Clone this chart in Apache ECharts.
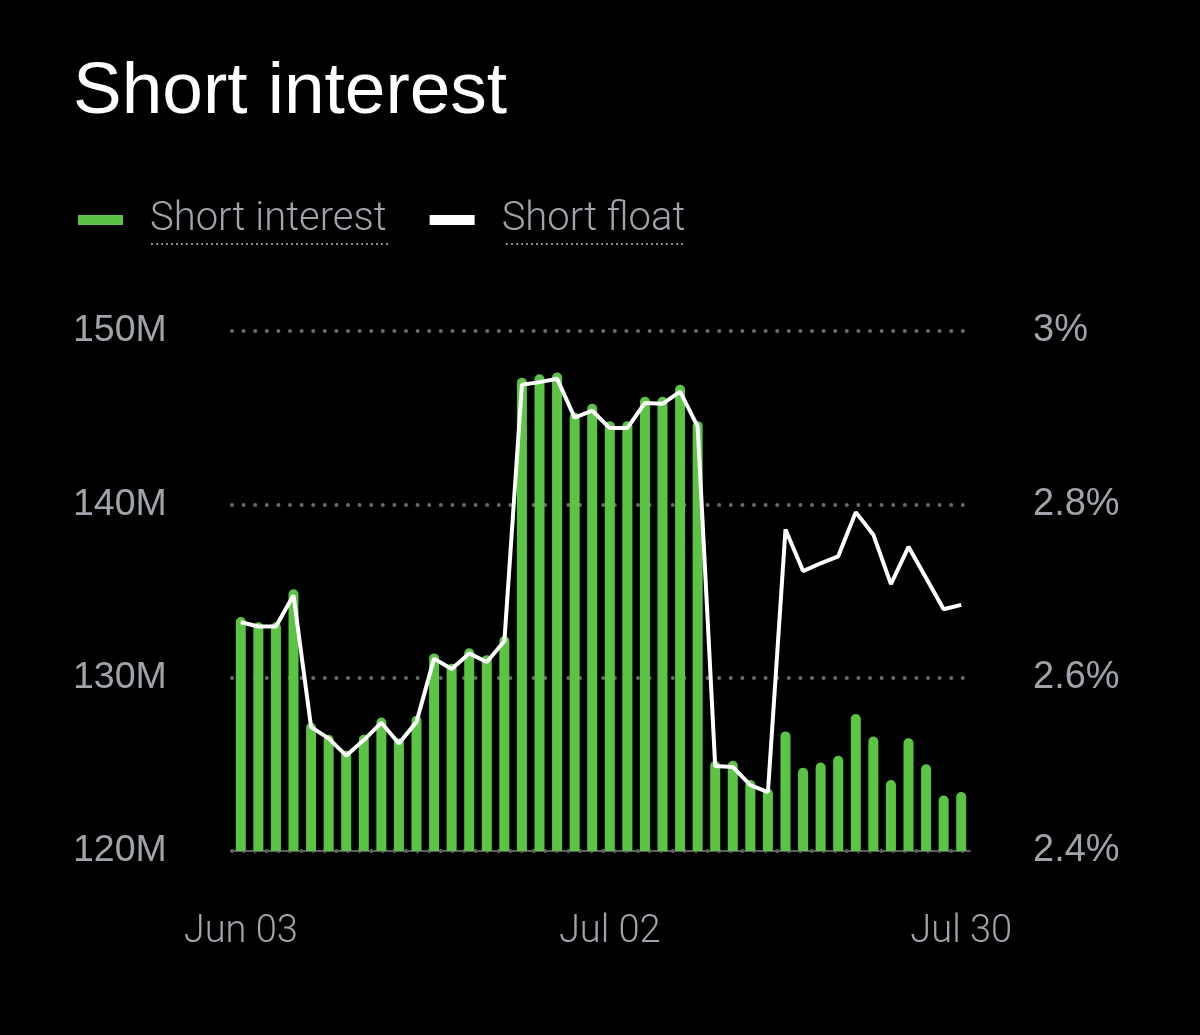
<!DOCTYPE html>
<html>
<head>
<meta charset="utf-8">
<script src="https://cdn.jsdelivr.net/npm/echarts@6/dist/echarts.min.js"></script>
<style>
html,body{margin:0;padding:0;background:#000;}
#chart{width:1200px;height:1035px;}
</style>
</head>
<body>
<div id="chart"></div>
<script>
const dates = ['Jun 03','Jun 04','Jun 05','Jun 06','Jun 07','Jun 10','Jun 11','Jun 12','Jun 13','Jun 14',
  'Jun 17','Jun 18','Jun 19','Jun 20','Jun 21','Jun 24','Jun 25','Jun 26','Jun 27','Jun 28',
  'Jul 01','Jul 02','Jul 03','Jul 04','Jul 05','Jul 08','Jul 09','Jul 10','Jul 11','Jul 12',
  'Jul 15','Jul 16','Jul 17','Jul 18','Jul 19','Jul 22','Jul 23','Jul 24','Jul 25','Jul 26',
  'Jul 29','Jul 30'];
const shortInterest = [133.5,133.2,133.2,135.1,127.4,126.7,125.8,126.7,127.7,126.5,
  127.8,131.4,130.8,131.7,131.3,132.4,147.3,147.5,147.6,145.3,
  145.8,144.8,144.8,146.2,146.2,146.9,144.8,125.2,125.2,124.1,
  123.6,126.9,124.8,125.1,125.5,127.9,126.6,124.1,126.5,125.0,
  123.2,123.4];
const shortFloat = [2.664,2.659,2.659,2.695,2.543,2.530,2.510,2.528,2.548,2.524,
  2.549,2.622,2.610,2.628,2.618,2.642,2.938,2.941,2.945,2.900,
  2.908,2.888,2.888,2.917,2.916,2.930,2.890,2.498,2.497,2.476,
  2.468,2.771,2.723,2.732,2.740,2.791,2.765,2.708,2.751,2.715,
  2.679,2.684];
const shownLabels = ['Jun 03','Jul 02','Jul 30'];
const leftTicks = {min:120, max:150, interval:10};
const rightTicks = {min:2.4, max:3.0, interval:0.2};

const GREEN = '#5cc444';
const GRAY = '#9fa3aa';

const chart = echarts.init(document.getElementById('chart'), null, {renderer:'canvas'});
chart.setOption({
  backgroundColor:'#000',
  animation:false,
  title:{
    text:'Short interest',
    left:68, top:51,
    textStyle:{color:'#fff', fontSize:73, fontWeight:'normal', fontFamily:'Liberation Sans'}
  },
  legend:{
    left:78, top:200, padding:0,
    itemWidth:45, itemHeight:10, itemGap:43,
    data:[{name:'Short interest', icon:'rect'},{name:'Short float', icon:'rect'}],
    textStyle:{color:GRAY, fontSize:40, fontFamily:'Roboto', fontWeight:300, padding:[0,0,0,22]}
  },
  graphic:[
    {type:'line', shape:{x1:151,y1:244,x2:390,y2:244}, style:{stroke:'#8a8e94', lineWidth:2, lineDash:[2,3]}},
    {type:'line', shape:{x1:506,y1:244,x2:686,y2:244}, style:{stroke:'#8a8e94', lineWidth:2, lineDash:[2,3]}}
  ],
  grid:{left:232, right:230, top:331, bottom:184},
  xAxis:{
    type:'category',
    data:dates,
    boundaryGap:true,
    axisTick:{show:false},
    axisLine:{show:true, lineStyle:{color:'#5e5e5e', width:2}},
    axisLabel:{
      color:GRAY, fontSize:38, fontFamily:'Roboto', fontWeight:300, margin:62,
      interval:(i, v)=>shownLabels.includes(v)
    },
    splitLine:{show:false}
  },
  yAxis:[
    {
      type:'value', position:'left',
      min:leftTicks.min, max:leftTicks.max, interval:leftTicks.interval,
      axisLine:{show:false}, axisTick:{show:false},
      axisLabel:{color:GRAY, fontSize:37.5, fontFamily:'Liberation Sans', align:'left', margin:159,
        formatter:v=>v+'M'},
      splitLine:{show:true, lineStyle:{color:'#6a6a6a', width:4, type:[0,11.6], cap:'round'}}
    },
    {
      type:'value', position:'right',
      min:rightTicks.min, max:rightTicks.max, interval:rightTicks.interval,
      axisLine:{show:false}, axisTick:{show:false},
      axisLabel:{color:GRAY, fontSize:38, fontFamily:'Liberation Sans', align:'left', margin:63,
        formatter:v=>(+v.toFixed(1))+'%'},
      splitLine:{show:false}
    }
  ],
  series:[
    {
      name:'Short interest', type:'bar', yAxisIndex:0,
      data:shortInterest,
      barWidth:10,
      itemStyle:{color:GREEN, borderRadius:[5,5,0,0]},
      z:2
    },
    {
      name:'Short float', type:'line', yAxisIndex:1,
      data:shortFloat,
      symbol:'none',
      lineStyle:{color:'#fff', width:4},
      itemStyle:{color:'#fff'},
      z:3
    }
  ]
});
</script>
</body>
</html>
